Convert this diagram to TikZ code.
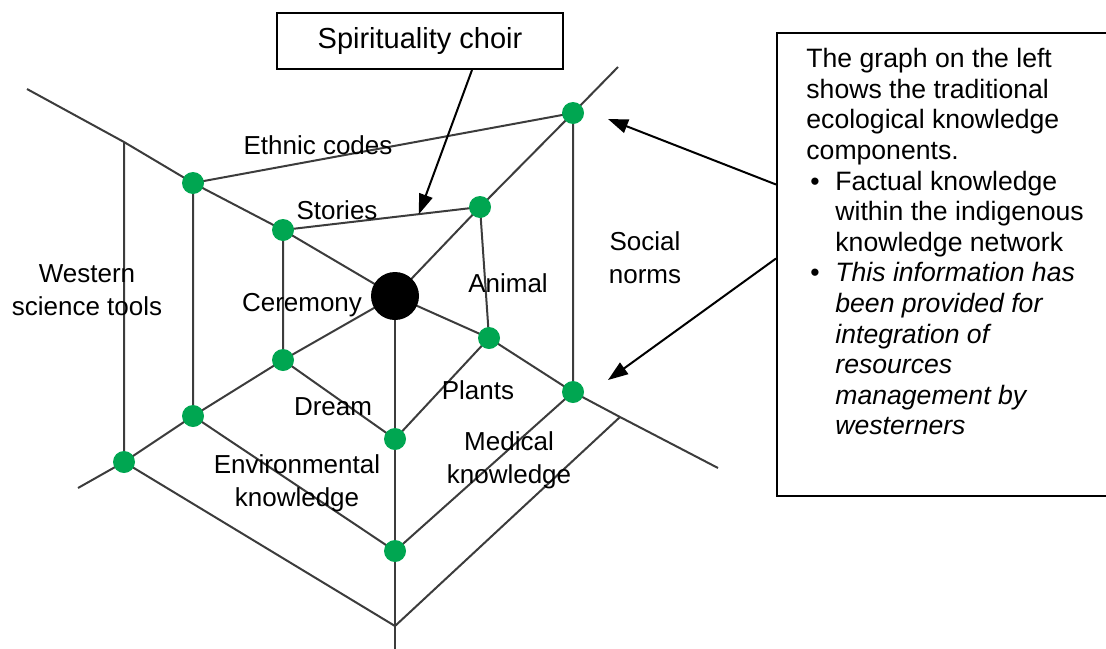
\documentclass[tikz,border=0pt]{standalone}
\usepackage{fontspec}
\setmainfont{Liberation Sans}
\usetikzlibrary{arrows.meta,calc}
\definecolor{webgreen}{HTML}{00A651}
\definecolor{webgray}{HTML}{3C3C3C}
\tikzset{
  web/.style={draw=webgray, line width=1pt},
  knot/.style={circle, fill=webgreen, inner sep=0pt, minimum size=11pt},
  hub/.style={circle, fill=black, inner sep=0pt, minimum size=24pt},
  lbl/.style={align=center, inner sep=0pt, font=\fontsize{13}{16.5}\selectfont},
  pointer/.style={-{Triangle[length=10pt,width=7pt]}, line width=1pt},
  note/.style={align=left, inner sep=0pt, font=\fontsize{13.3}{15.3}\selectfont},
}
\begin{document}
\begin{tikzpicture}[x=0.5pt,y=-0.5pt]
  \useasboundingbox (0,0) rectangle (1106,648);

  % web points
  \coordinate (c) at (395,296);
  \coordinate (ul0) at (27,89);
  \coordinate (ul1) at (124,142);
  \coordinate (ul2) at (193,183);
  \coordinate (ul3) at (283,230);
  \coordinate (ur3) at (480,207);
  \coordinate (ur2) at (573,113);
  \coordinate (ur0) at (618,67);
  \coordinate (lr3) at (489,338);
  \coordinate (lr2) at (573,392);
  \coordinate (lr1) at (620,417);
  \coordinate (lr0) at (718,468);
  \coordinate (ll3) at (283,360);
  \coordinate (ll2) at (193,416);
  \coordinate (ll1) at (124,462);
  \coordinate (ll0) at (78,488);
  \coordinate (b3) at (395,439);
  \coordinate (b2) at (395,551);
  \coordinate (b1) at (395,626);
  \coordinate (b0) at (395,650);

  % spokes
  \draw[web] (c) -- (ul3) -- (ul2) -- (ul1) -- (ul0);
  \draw[web] (c) -- (ur3) -- (ur2) -- (ur0);
  \draw[web] (c) -- (lr3) -- (lr2) -- (lr1) -- (lr0);
  \draw[web] (c) -- (ll3) -- (ll2) -- (ll1) -- (ll0);
  \draw[web] (c) -- (b3) -- (b2) -- (b1) -- (b0);

  % rings
  \draw[web] (ul3) -- (ur3) -- (lr3) -- (b3) -- (ll3) -- cycle;
  \draw[web] (ul2) -- (ur2) -- (lr2) -- (b2) -- (ll2) -- cycle;
  \draw[web] (ul1) -- (ll1) -- (b1) -- (lr1);

  % knots
  \foreach \p in {ul3,ur3,lr3,b3,ll3,ul2,ur2,lr2,b2,ll2,ll1}
    \node[knot] (k-\p) at (\p) {};
  \node[hub] (hub) at (c) {};

  % labels
  \node[lbl] (ethnic) at (318,145) {Ethnic codes};
  \node[lbl] (stories) at (337,210) {Stories};
  \node[lbl] (western) at (87,290) {Western\\science tools};
  \node[lbl] (ceremony) at (302,305) {Ceremony};
  \node[lbl] (animal) at (508,283) {Animal};
  \node[lbl] (social) at (645,258) {Social\\norms};
  \node[lbl] (plants) at (478,390) {Plants};
  \node[lbl] (dream) at (333,407) {Dream};
  \node[lbl] (environ) at (297,483) {Environmental\\knowledge};
  \node[lbl] (medical) at (509,460) {Medical\\knowledge};

  % spirituality callout
  \node[draw, line width=1pt, minimum width=143pt, minimum height=28pt,
    font=\fontsize{14.5}{17}\selectfont] (choir) at (420,41) {Spirituality choir};
  \coordinate (choirhit) at ($(ul3)!0.69!(ur3)$);
  \draw[pointer] ([xshift=26pt]choir.south) -- (choirhit);

  % note box
  \node[draw, line width=1pt, minimum width=167pt, minimum height=231.5pt,
    anchor=north west] (notebox) at (776,32) {};
  \node[note, anchor=north west] (notetext) at (806,48) {The graph on the left\\
    shows the traditional\\
    ecological knowledge\\
    components.\\
    \hspace*{2pt}\makebox[12.5pt][l]{\textbullet}Factual knowledge\\
    \hspace*{14.5pt}within the indigenous\\
    \hspace*{14.5pt}knowledge network\\
    \hspace*{2pt}\makebox[12.5pt][l]{\textbullet}\textit{This information has}\\
    \hspace*{14.5pt}\textit{been provided for}\\
    \hspace*{14.5pt}\textit{integration of}\\
    \hspace*{14.5pt}\textit{resources}\\
    \hspace*{14.5pt}\textit{management by}\\
    \hspace*{14.5pt}\textit{westerners}};
  \coordinate (tipup) at (608,119);
  \coordinate (tipdown) at (608,380);
  \draw[pointer] ([yshift=40pt]notebox.west) -- (tipup);
  \draw[pointer] ([yshift=3pt]notebox.west) -- (tipdown);
\end{tikzpicture}
\end{document}
